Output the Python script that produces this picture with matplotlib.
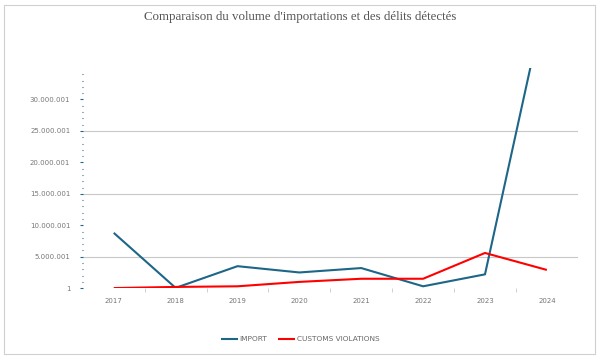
import matplotlib
matplotlib.use("Agg")
import matplotlib.pyplot as plt
from matplotlib.ticker import FixedLocator, FuncFormatter
from matplotlib.patches import Rectangle

# data
years = ["2017", "2018", "2019", "2020", "2021", "2022", "2023", "2024"]
imports = [8.8e6, 0.05e6, 3.5e6, 2.5e6, 3.2e6, 0.3e6, 2.2e6, 47e6]
violations = [0.02e6, 0.2e6, 0.3e6, 1.0e6, 1.5e6, 1.5e6, 5.6e6, 2.9e6]
y_ticks = [1, 5000001, 10000001, 15000001, 20000001, 25000001, 30000001]
grid_at = [5000001, 15000001, 25000001]

blue = "#1d6688"
red = "#ff0000"

fig = plt.figure(figsize=(6.0, 3.58), dpi=100)
ax = fig.add_axes([0.138, 0.195, 0.825, 0.615])

x = list(range(len(years)))
ax.plot(x, imports, color=blue, linewidth=1.5, label="IMPORT", solid_capstyle="butt")
ax.plot(x, violations, color=red, linewidth=1.5, label="CUSTOMS VIOLATIONS", solid_capstyle="butt")

ax.set_xlim(-0.5, len(years) - 0.5)
ax.set_ylim(1, 35e6)

for g in grid_at:
    ax.axhline(g, color="#c8c8c8", linewidth=0.8, zorder=0)

for s in ax.spines.values():
    s.set_visible(False)

ax.yaxis.set_major_locator(FixedLocator(y_ticks))
ax.yaxis.set_major_formatter(FuncFormatter(lambda v, p: f"{int(round(v)):,}".replace(",", ".")))
ax.yaxis.set_minor_locator(FixedLocator([v * 1e6 for v in range(1, 35) if v % 5 != 0]))
ax.tick_params(axis="y", which="major", length=2, width=0.8, color=blue, labelsize=5,
               labelcolor="#777777", pad=7)
ax.tick_params(axis="y", which="minor", length=0.8, width=0.8, color=blue)

ax.set_xticks(x)
ax.set_xticklabels(years)
ax.xaxis.set_minor_locator(FixedLocator([i + 0.5 for i in x[:-1]]))
ax.tick_params(axis="x", which="major", length=0, labelsize=5, labelcolor="#777777", pad=7)
ax.tick_params(axis="x", which="minor", length=3, width=0.6, color="#c8c8c8")

fig.text(0.5, 0.952, "Comparaison du volume d'importations et des délits détectés",
         ha="center", va="center", fontsize=9.3, family="Liberation Serif", color="#555555")

fig.legend(loc="center", bbox_to_anchor=(0.5, 0.053), ncol=2, frameon=False,
           fontsize=5.3, handlelength=2.3, handletextpad=0.2, columnspacing=1.5,
           labelcolor="#666666")

fig.patches.append(Rectangle((0.007, 0.012), 0.985, 0.975, transform=fig.transFigure,
                             fill=False, edgecolor="#d0d0d0", linewidth=0.8))

fig.savefig("out.png", dpi=100)
